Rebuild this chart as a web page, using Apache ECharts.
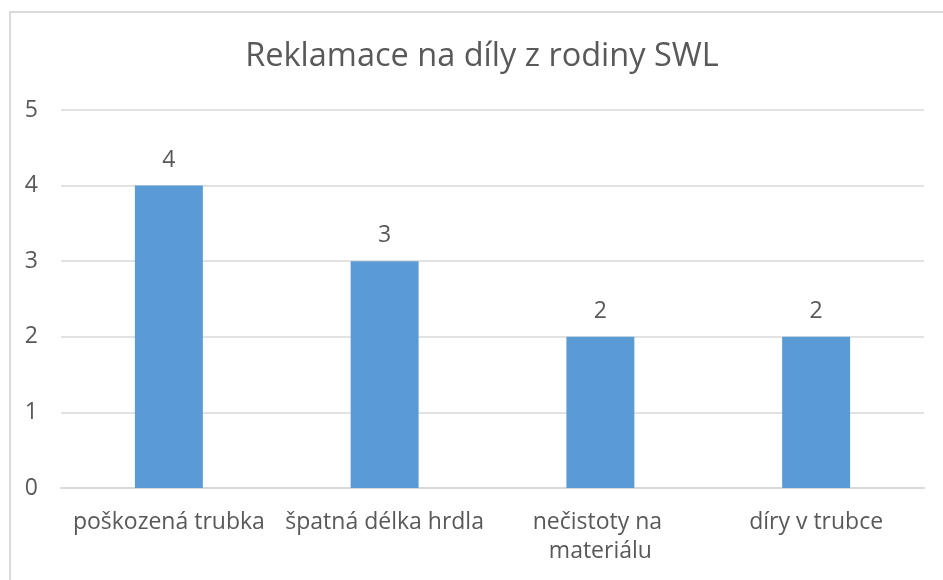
<!DOCTYPE html>
<html>
<head>
<meta charset="utf-8">
<script src="https://cdn.jsdelivr.net/npm/echarts@6/dist/echarts.min.js"></script>
<style>
  html, body { margin: 0; padding: 0; background: #ffffff; }
  #frame { position: absolute; left: 9px; top: 11px; width: 960px; height: 600px; border: 2px solid #d9d9d9; box-sizing: border-box; }
  #chart { position: absolute; left: 0; top: 0; width: 943px; height: 580px; }
</style>
</head>
<body>
<div id="frame"></div>
<div id="chart"></div>
<script>
// Complaint categories and their counts
const categories = ['poškozená trubka', 'špatná délka hrdla', 'nečistoty na materiálu', 'díry v trubce'];
const counts = [4, 3, 2, 2];
const yTicks = [0, 1, 2, 3, 4, 5];

const FONT = 'Open Sans';
const TEXT = '#595959';

const chart = echarts.init(document.getElementById('chart'), null, { renderer: 'canvas' });
chart.setOption({
  backgroundColor: 'transparent',
  animation: false,
  title: {
    text: 'Reklamace na díly z rodiny SWL',
    left: 477,
    textAlign: 'center',
    top: 35,
    textStyle: { fontFamily: FONT, fontSize: 32.5, fontWeight: 'normal', color: TEXT }
  },
  grid: { left: 61, right: 19, top: 110, bottom: 92, containLabel: false },
  xAxis: {
    type: 'category',
    data: categories,
    axisLine: { show: true, lineStyle: { color: '#d9d9d9', width: 2 } },
    axisTick: { show: false },
    axisLabel: {
      fontFamily: FONT, fontSize: 23, color: TEXT, margin: 20,
      lineHeight: 29, width: 235, overflow: 'break', interval: 0
    }
  },
  yAxis: {
    type: 'value',
    min: yTicks[0],
    max: yTicks[yTicks.length - 1],
    interval: 1,
    axisLine: { show: false },
    axisTick: { show: false },
    splitLine: { lineStyle: { color: '#d9d9d9', width: 1.5 } },
    axisLabel: { fontFamily: FONT, fontSize: 23, color: TEXT, margin: 23 }
  },
  series: [{
    type: 'bar',
    data: counts,
    barWidth: '31.5%',
    itemStyle: { color: '#5b9bd5' },
    label: {
      show: true, position: 'top', distance: 14,
      fontFamily: FONT, fontSize: 23, color: TEXT
    }
  }]
});
</script>
</body>
</html>
